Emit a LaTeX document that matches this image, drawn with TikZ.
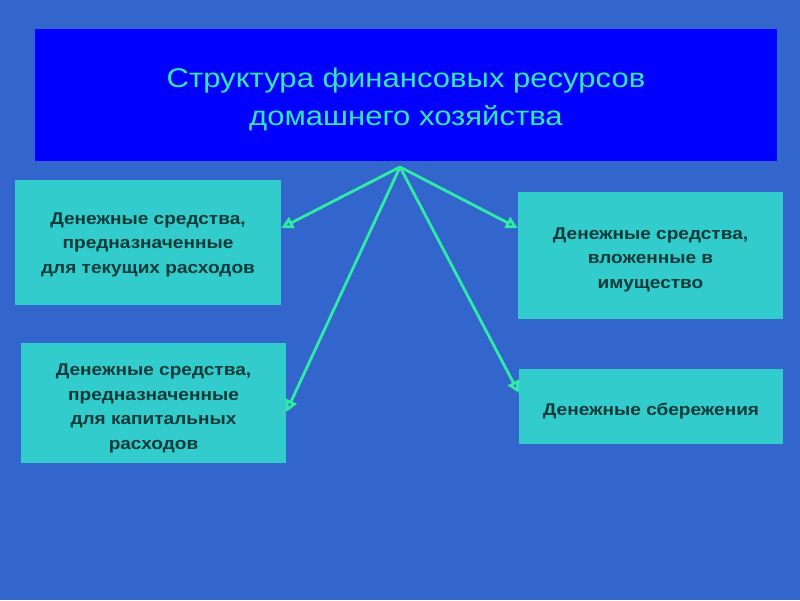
\documentclass[tikz,border=0pt]{standalone}
\usepackage{fontspec}
\setmainfont{Liberation Sans}
\newfontfamily\wideface[FakeStretch=1.15]{Liberation Sans}
\newfontfamily\boxface[FakeStretch=1.12]{Liberation Sans}
\usepackage{xcolor}
\usetikzlibrary{arrows.meta,positioning}
\definecolor{slidebg}{HTML}{3366CC}
\definecolor{titlefill}{HTML}{0000FF}
\definecolor{titletext}{HTML}{33E8B0}
\definecolor{boxfill}{HTML}{33CCCC}
\definecolor{boxtext}{HTML}{0E3A3A}
\definecolor{arcol}{HTML}{2EEBA5}

\begin{document}
\begin{tikzpicture}[
  x=1pt,y=-1pt,
  head/.style={fill=titlefill,text=titletext,align=center,
               font=\wideface\fontsize{27}{38}\selectfont,inner sep=0pt},
  part/.style={fill=boxfill,text=boxtext,align=center,
               font=\boxface\bfseries\fontsize{17}{24.5}\selectfont,inner sep=0pt},
  sink/.style={text height=#1},
  ar/.style={-{Triangle[open,length=12pt,width=12pt]},line width=2.8pt,arcol}
]
\fill[slidebg] (0,0) rectangle (800,600);
\useasboundingbox (0,0) rectangle (800,600);
\node[head,sink=66pt,minimum width=742pt,minimum height=132pt] (ttl) at (406,95)
      {Структура финансовых ресурсов\\домашнего хозяйства};
\node[part,sink=65.5pt,minimum width=266pt,minimum height=125pt] (cur) at (148,242.5)
      {Денежные средства,\\предназначенные\\для текущих расходов};
\node[part,sink=69.5pt,minimum width=265pt,minimum height=127pt] (prop) at (650.5,255.5)
      {Денежные средства,\\вложенные в\\имущество};
\node[part,sink=96pt,minimum width=265pt,minimum height=120pt] (cap) at (153.5,403)
      {Денежные средства,\\предназначенные\\для капитальных\\расходов};
\node[part,sink=22.5pt,minimum width=264pt,minimum height=75pt] (sav) at (651,406.5)
      {Денежные сбережения};
\coordinate (top) at (400,167);
\draw[ar] (top) -- ([yshift=14.5pt]cur.east);
\draw[ar] (top) -- ([yshift=27.5pt]prop.west);
\draw[ar] (top) -- ([yshift=-9pt]cap.east);
\draw[ar] (top) -- ([yshift=13.5pt]sav.west);
\end{tikzpicture}
\end{document}
